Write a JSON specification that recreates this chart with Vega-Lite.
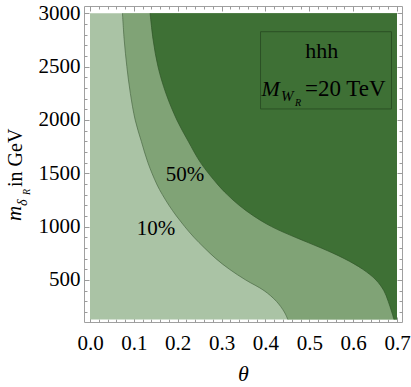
{
  "$schema": "https://vega.github.io/schema/vega-lite/v6.json",
  "width": 318,
  "height": 316,
  "autosize": "none",
  "padding": {"left": 84, "top": 6, "right": 9, "bottom": 65},
  "background": "white",
  "config": {
    "view": {"stroke": "#a0a0a0", "strokeWidth": 1},
    "axis": {
      "grid": false,
      "domain": false,
      "labelFont": "Liberation Serif",
      "labelFontSize": 21,
      "labelColor": "black",
      "labelFlush": false,
      "labelOverlap": false,
      "tickColor": "#9a9a9a",
      "tickWidth": 1
    }
  },
  "datasets": {
    "region": [{"t0": 0, "t1": 0.7, "m0": 130, "m1": 3000}],
    "curves": [
      {"m": 130, "t10": 0.451, "t50": 0.693},
      {"m": 200, "t10": 0.443, "t50": 0.688},
      {"m": 300, "t10": 0.425, "t50": 0.68},
      {"m": 400, "t10": 0.397, "t50": 0.67},
      {"m": 500, "t10": 0.355, "t50": 0.652},
      {"m": 600, "t10": 0.318, "t50": 0.622},
      {"m": 700, "t10": 0.287, "t50": 0.58},
      {"m": 800, "t10": 0.261, "t50": 0.527},
      {"m": 900, "t10": 0.237, "t50": 0.468},
      {"m": 1000, "t10": 0.216, "t50": 0.414},
      {"m": 1100, "t10": 0.197, "t50": 0.373},
      {"m": 1200, "t10": 0.18, "t50": 0.34},
      {"m": 1300, "t10": 0.165, "t50": 0.313},
      {"m": 1400, "t10": 0.152, "t50": 0.29},
      {"m": 1600, "t10": 0.132, "t50": 0.252},
      {"m": 1800, "t10": 0.117, "t50": 0.224},
      {"m": 2000, "t10": 0.103, "t50": 0.198},
      {"m": 2250, "t10": 0.092, "t50": 0.173},
      {"m": 2500, "t10": 0.084, "t50": 0.155},
      {"m": 2750, "t10": 0.078, "t50": 0.144},
      {"m": 3000, "t10": 0.074, "t50": 0.137}
    ],
    "box": [{"t0": 0.3888, "t1": 0.6874, "m0": 2103, "m1": 2827}],
    "contourLabels": [
      {"t": 0.1726, "m": 1428, "label": "50%"},
      {"t": 0.1065, "m": 922, "label": "10%"}
    ],
    "hhh": [{"t": 0.5283, "m": 2581, "label": "hhh"}],
    "bigItalic": [{"t": 0.391, "m": 2225, "label": "M"}],
    "subItalic": [{"t": 0.4355, "m": 2178, "label": "W"}],
    "subsubItalic": [{"t": 0.4674, "m": 2126, "label": "R"}],
    "eqText": [{"t": 0.4902, "m": 2225, "label": "=20 TeV"}],
    "ytM": [{"t": -0.1573, "m": 1053, "label": "m"}],
    "ytDelta": [{"t": -0.1436, "m": 1194, "label": "δ"}],
    "ytR": [{"t": -0.1357, "m": 1297, "label": "R"}],
    "ytRest": [{"t": -0.1562, "m": 1372, "label": "in GeV"}]
  },
  "layer": [
    {
      "data": {"name": "region"},
      "mark": {"type": "rect", "fill": "#aac3a5"},
      "encoding": {
        "x": {"field": "t0", "type": "quantitative",
          "scale": {"domain": [-0.0137, 0.7114], "nice": false, "zero": false},
          "axis": {"orient": "bottom", "values": [0, 0.1, 0.2, 0.3, 0.4, 0.5, 0.6, 0.7], "format": ".1f",
            "ticks": false, "labelPadding": 10, "labelFont": "Liberation Serif", "labelFontSize": 21, "labelColor": "black",
            "title": "θ",
            "titleFont": "Liberation Serif", "titleFontStyle": "italic", "titleFontWeight": "normal",
            "titleFontSize": 22, "titleColor": "black", "titleBaseline": "alphabetic", "titleY": 58}},
        "x2": {"field": "t1"},
        "y": {"field": "m0", "type": "quantitative",
          "scale": {"domain": [106, 3068], "nice": false, "zero": false},
          "axis": {"orient": "left", "values": [500, 1000, 1500, 2000, 2500, 3000], "format": "d",
            "ticks": false, "labelPadding": 4, "labelFont": "Liberation Serif", "labelFontSize": 21, "labelColor": "black",
            "title": null}},
        "y2": {"field": "m1"}
      }
    },
    {
      "data": {"name": "curves"},
      "mark": {"type": "area", "orient": "horizontal", "fill": "#80a376", "interpolate": "catmull-rom"},
      "encoding": {
        "x": {"field": "t10", "type": "quantitative",
          "scale": {"domain": [-0.0137, 0.7114], "nice": false, "zero": false},
          "axis": {"orient": "bottom", "values": [0, 0.1, 0.2, 0.3, 0.4, 0.5, 0.6, 0.7],
            "labels": false, "tickSize": -5, "title": null}},
        "x2": {"datum": 0.7},
        "y": {"field": "m", "type": "quantitative",
          "scale": {"domain": [106, 3068], "nice": false, "zero": false},
          "axis": {"orient": "left", "values": [500, 1000, 1500, 2000, 2500, 3000],
            "labels": false, "tickSize": -5, "title": null}}
      }
    },
    {
      "data": {"name": "curves"},
      "mark": {"type": "area", "orient": "horizontal", "fill": "#3e7035", "interpolate": "catmull-rom"},
      "encoding": {
        "x": {"field": "t50", "type": "quantitative",
          "scale": {"domain": [-0.0137, 0.7114], "nice": false, "zero": false},
          "axis": {"orient": "bottom", "values": [0.02, 0.04, 0.06, 0.08, 0.12, 0.14, 0.16, 0.18, 0.22, 0.24, 0.26, 0.28, 0.32, 0.34, 0.36, 0.38, 0.42, 0.44, 0.46, 0.48, 0.52, 0.54, 0.56, 0.58, 0.62, 0.64, 0.66, 0.68],
            "labels": false, "tickSize": -3, "title": null}},
        "x2": {"datum": 0.7},
        "y": {"field": "m", "type": "quantitative",
          "scale": {"domain": [106, 3068], "nice": false, "zero": false},
          "axis": {"orient": "left", "values": [200, 300, 400, 600, 700, 800, 900, 1100, 1200, 1300, 1400, 1600, 1700, 1800, 1900, 2100, 2200, 2300, 2400, 2600, 2700, 2800, 2900],
            "labels": false, "tickSize": -3, "title": null}}
      }
    },
    {
      "data": {"name": "curves"},
      "mark": {"type": "line", "stroke": "#4a6845", "strokeWidth": 0.7, "interpolate": "catmull-rom"},
      "encoding": {
        "x": {"field": "t10", "type": "quantitative",
          "scale": {"domain": [-0.0137, 0.7114], "nice": false, "zero": false},
          "axis": {"orient": "top", "values": [0, 0.1, 0.2, 0.3, 0.4, 0.5, 0.6, 0.7],
            "labels": false, "tickSize": -5, "title": null}},
        "y": {"field": "m", "type": "quantitative",
          "scale": {"domain": [106, 3068], "nice": false, "zero": false},
          "axis": {"orient": "right", "values": [500, 1000, 1500, 2000, 2500, 3000],
            "labels": false, "tickSize": -5, "title": null}},
        "order": {"field": "m", "type": "quantitative"}
      }
    },
    {
      "data": {"name": "curves"},
      "mark": {"type": "line", "stroke": "#2f5528", "strokeWidth": 0.7, "interpolate": "catmull-rom"},
      "encoding": {
        "x": {"field": "t50", "type": "quantitative",
          "scale": {"domain": [-0.0137, 0.7114], "nice": false, "zero": false},
          "axis": {"orient": "top", "values": [0.02, 0.04, 0.06, 0.08, 0.12, 0.14, 0.16, 0.18, 0.22, 0.24, 0.26, 0.28, 0.32, 0.34, 0.36, 0.38, 0.42, 0.44, 0.46, 0.48, 0.52, 0.54, 0.56, 0.58, 0.62, 0.64, 0.66, 0.68],
            "labels": false, "tickSize": -3, "title": null}},
        "y": {"field": "m", "type": "quantitative",
          "scale": {"domain": [106, 3068], "nice": false, "zero": false},
          "axis": {"orient": "right", "values": [200, 300, 400, 600, 700, 800, 900, 1100, 1200, 1300, 1400, 1600, 1700, 1800, 1900, 2100, 2200, 2300, 2400, 2600, 2700, 2800, 2900],
            "labels": false, "tickSize": -3, "title": null}},
        "order": {"field": "m", "type": "quantitative"}
      }
    },
    {
      "data": {"name": "box"},
      "mark": {"type": "rect", "fill": null, "fillOpacity": 0, "stroke": "#2b5025", "strokeWidth": 1},
      "encoding": {
        "x": {"field": "t0", "type": "quantitative", "axis": null},
        "x2": {"field": "t1"},
        "y": {"field": "m0", "type": "quantitative", "axis": null},
        "y2": {"field": "m1"}
      }
    },
    {
      "data": {"name": "contourLabels"},
      "mark": {"type": "text", "font": "Liberation Serif", "fontSize": 21, "align": "left", "baseline": "alphabetic", "color": "black"},
      "encoding": {
        "x": {"field": "t", "type": "quantitative", "axis": null},
        "y": {"field": "m", "type": "quantitative", "axis": null},
        "text": {"field": "label"}
      }
    },
    {
      "data": {"name": "hhh"},
      "mark": {"type": "text", "font": "Liberation Serif", "fontSize": 22, "align": "center", "baseline": "alphabetic", "color": "black"},
      "encoding": {
        "x": {"field": "t", "type": "quantitative", "axis": null},
        "y": {"field": "m", "type": "quantitative", "axis": null},
        "text": {"field": "label"}
      }
    },
    {
      "data": {"name": "bigItalic"},
      "mark": {"type": "text", "font": "Liberation Serif", "fontStyle": "italic", "fontSize": 22, "align": "left", "baseline": "alphabetic", "color": "black"},
      "encoding": {
        "x": {"field": "t", "type": "quantitative", "axis": null},
        "y": {"field": "m", "type": "quantitative", "axis": null},
        "text": {"field": "label"}
      }
    },
    {
      "data": {"name": "subItalic"},
      "mark": {"type": "text", "font": "Liberation Serif", "fontStyle": "italic", "fontSize": 15, "align": "left", "baseline": "alphabetic", "color": "black"},
      "encoding": {
        "x": {"field": "t", "type": "quantitative", "axis": null},
        "y": {"field": "m", "type": "quantitative", "axis": null},
        "text": {"field": "label"}
      }
    },
    {
      "data": {"name": "subsubItalic"},
      "mark": {"type": "text", "font": "Liberation Serif", "fontStyle": "italic", "fontSize": 10, "align": "left", "baseline": "alphabetic", "color": "black"},
      "encoding": {
        "x": {"field": "t", "type": "quantitative", "axis": null},
        "y": {"field": "m", "type": "quantitative", "axis": null},
        "text": {"field": "label"}
      }
    },
    {
      "data": {"name": "eqText"},
      "mark": {"type": "text", "font": "Liberation Serif", "fontSize": 23, "align": "left", "baseline": "alphabetic", "color": "black"},
      "encoding": {
        "x": {"field": "t", "type": "quantitative", "axis": null},
        "y": {"field": "m", "type": "quantitative", "axis": null},
        "text": {"field": "label"}
      }
    },
    {
      "data": {"name": "ytM"},
      "mark": {"type": "text", "font": "Liberation Serif", "fontStyle": "italic", "fontSize": 21, "align": "left", "baseline": "alphabetic", "angle": 270, "color": "black"},
      "encoding": {
        "x": {"field": "t", "type": "quantitative", "axis": null},
        "y": {"field": "m", "type": "quantitative", "axis": null},
        "text": {"field": "label"}
      }
    },
    {
      "data": {"name": "ytDelta"},
      "mark": {"type": "text", "font": "Liberation Serif", "fontStyle": "italic", "fontSize": 14, "align": "left", "baseline": "alphabetic", "angle": 270, "color": "black"},
      "encoding": {
        "x": {"field": "t", "type": "quantitative", "axis": null},
        "y": {"field": "m", "type": "quantitative", "axis": null},
        "text": {"field": "label"}
      }
    },
    {
      "data": {"name": "ytR"},
      "mark": {"type": "text", "font": "Liberation Serif", "fontStyle": "italic", "fontSize": 10, "align": "left", "baseline": "alphabetic", "angle": 270, "color": "black"},
      "encoding": {
        "x": {"field": "t", "type": "quantitative", "axis": null},
        "y": {"field": "m", "type": "quantitative", "axis": null},
        "text": {"field": "label"}
      }
    },
    {
      "data": {"name": "ytRest"},
      "mark": {"type": "text", "font": "Liberation Serif", "fontSize": 20, "align": "left", "baseline": "alphabetic", "angle": 270, "color": "black"},
      "encoding": {
        "x": {"field": "t", "type": "quantitative", "axis": null},
        "y": {"field": "m", "type": "quantitative", "axis": null},
        "text": {"field": "label"}
      }
    }
  ]
}
